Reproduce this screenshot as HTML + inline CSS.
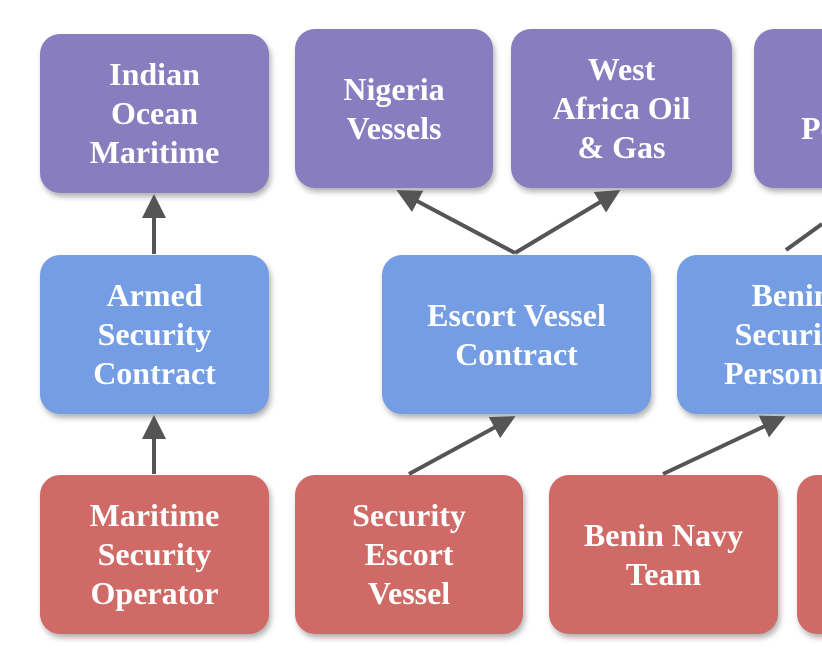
<!DOCTYPE html>
<html><head><meta charset="utf-8"><style>
html,body{margin:0;padding:0;background:#fff;width:822px;height:656px;overflow:hidden}
#w{position:relative;width:822px;height:656px;overflow:hidden}
.b{position:absolute;border-radius:20px;display:flex;align-items:center;justify-content:center;text-align:center;color:#fff;font-family:"Liberation Serif",serif;font-weight:bold;font-size:32px;line-height:39px;box-shadow:2px 4px 6px rgba(0,0,0,0.3)}
.p{background:#887dbe}.u{background:#749de3}.r{background:#cf6a67}
svg{position:absolute;left:0;top:0}
</style></head><body><div id="w">
<div class="b p" style="left:40px;top:34px;width:229px;height:159px">Indian<br>Ocean<br>Maritime</div>
<div class="b p" style="left:295px;top:29px;width:198px;height:159px">Nigeria<br>Vessels</div>
<div class="b p" style="left:511px;top:29px;width:221px;height:159px">West<br>Africa Oil<br>&amp; Gas</div>
<div class="b p" style="left:754px;top:29px;width:229px;height:159px">Port<br>Personnel</div>
<div class="b u" style="left:40px;top:255px;width:229px;height:159px">Armed<br>Security<br>Contract</div>
<div class="b u" style="left:382px;top:255px;width:269px;height:159px">Escort Vessel<br>Contract</div>
<div class="b u" style="left:677px;top:255px;width:229px;height:159px">Benin<br>Security<br>Personnel</div>
<div class="b r" style="left:40px;top:475px;width:229px;height:159px">Maritime<br>Security<br>Operator</div>
<div class="b r" style="left:295px;top:475px;width:228px;height:159px">Security<br>Escort<br>Vessel</div>
<div class="b r" style="left:549px;top:475px;width:229px;height:159px">Benin Navy<br>Team</div>
<div class="b r" style="left:797px;top:475px;width:229px;height:159px"></div>
<svg width="822" height="656" viewBox="0 0 822 656">
<defs><marker id="a" markerWidth="6" markerHeight="6" refX="5" refY="3" orient="auto" markerUnits="strokeWidth"><path d="M0,0 L6,3 L0,6 z" fill="#555"/></marker></defs>
<g stroke="#555" stroke-width="4" fill="none">
<line x1="154" y1="254" x2="154" y2="198" marker-end="url(#a)"/>
<line x1="154" y1="474" x2="154" y2="419" marker-end="url(#a)"/>
<line x1="515" y1="253" x2="400" y2="192" marker-end="url(#a)"/>
<line x1="515" y1="253" x2="617" y2="192" marker-end="url(#a)"/>
<line x1="409" y1="474" x2="512" y2="418" marker-end="url(#a)"/>
<line x1="663" y1="474" x2="782" y2="418" marker-end="url(#a)"/>
<line x1="786" y1="250" x2="822" y2="224"/>
</g>
</svg>
</div></body></html>
